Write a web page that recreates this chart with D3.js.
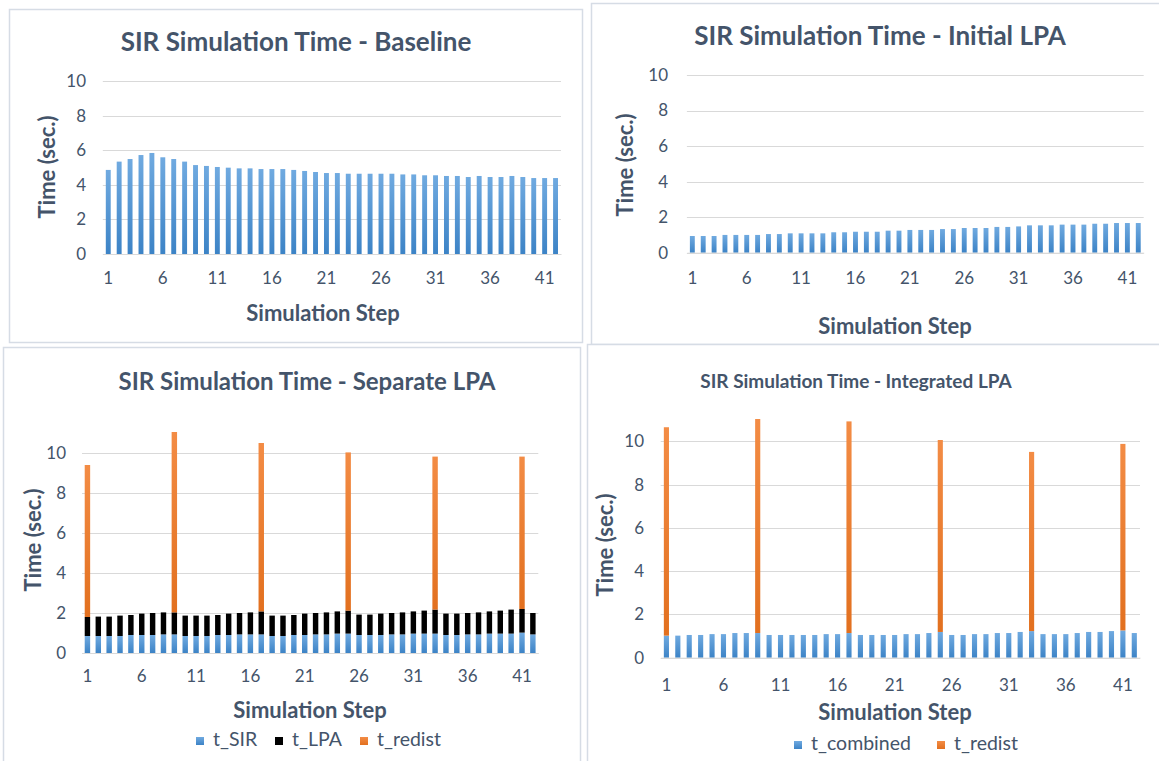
<!DOCTYPE html>
<html><head><meta charset="utf-8">
<script src="https://cdn.jsdelivr.net/npm/d3@7"></script>
<style>
html,body{margin:0;padding:0;background:#fff;}
svg{display:block;font-family:Lato,"Open Sans",sans-serif;}
</style></head>
<body>
<svg id="c" width="1159" height="761"></svg>
<script>
const steps = d3.range(1, 43);
const tickLabels = [1, 6, 11, 16, 21, 26, 31, 36, 41];
const yTicks = [0, 2, 4, 6, 8, 10];

const baseline = [4.86,5.34,5.49,5.72,5.84,5.59,5.49,5.34,5.14,5.09,5.03,4.99,4.95,4.95,4.91,4.91,4.91,4.86,4.80,4.74,4.68,4.68,4.64,4.64,4.64,4.64,4.64,4.60,4.60,4.55,4.55,4.51,4.51,4.45,4.51,4.45,4.45,4.51,4.45,4.39,4.39,4.39];
const initialLPA = [0.94,0.94,0.94,1.00,1.00,1.00,1.00,1.05,1.05,1.09,1.09,1.09,1.09,1.15,1.15,1.18,1.18,1.18,1.24,1.24,1.28,1.28,1.28,1.33,1.33,1.39,1.39,1.39,1.45,1.45,1.48,1.54,1.54,1.54,1.58,1.58,1.58,1.63,1.63,1.67,1.67,1.67];

const sepSIR = [0.85,0.85,0.85,0.85,0.90,0.90,0.90,0.93,0.93,0.85,0.85,0.85,0.90,0.90,0.93,0.93,0.93,0.85,0.85,0.90,0.90,0.93,0.93,0.97,0.97,0.90,0.90,0.90,0.93,0.93,0.97,0.97,0.97,0.90,0.90,0.93,0.93,0.97,0.97,0.97,1.02,0.93];
const sepLPA = [0.95,0.97,0.97,1.02,1.00,1.07,1.10,1.10,1.10,1.02,1.02,1.02,1.00,1.07,1.07,1.10,1.15,1.02,1.02,1.00,1.07,1.07,1.10,1.11,1.15,1.02,1.02,1.07,1.07,1.10,1.11,1.15,1.20,1.07,1.07,1.07,1.10,1.11,1.15,1.20,1.18,1.07];
const sepRedist = [7.60,0,0,0,0,0,0,0,9.02,0,0,0,0,0,0,0,8.42,0,0,0,0,0,0,0,7.91,0,0,0,0,0,0,0,7.65,0,0,0,0,0,0,0,7.62,0];

const intCombined = [1.02,1.02,1.05,1.05,1.09,1.09,1.14,1.14,1.14,1.05,1.05,1.05,1.05,1.05,1.09,1.09,1.14,1.05,1.05,1.05,1.05,1.09,1.09,1.14,1.19,1.05,1.05,1.09,1.09,1.14,1.14,1.19,1.23,1.09,1.09,1.09,1.14,1.19,1.19,1.23,1.26,1.14];
const intRedist = [9.63,0,0,0,0,0,0,0,9.89,0,0,0,0,0,0,0,9.78,0,0,0,0,0,0,0,8.87,0,0,0,0,0,0,0,8.28,0,0,0,0,0,0,0,8.62,0];

const titles = ["SIR Simulation Time - Baseline","SIR Simulation Time - Initial LPA","SIR Simulation Time - Separate LPA","SIR Simulation Time - Integrated LPA"];
const xTitle = "Simulation Step";
const yTitle = "Time (sec.)";

const TEXT = "#44546A";
const GRID = "#D9D9D9";
const svg = d3.select("#c");
const defs = svg.append("defs");
function grad(id, top, bottom){
  const g = defs.append("linearGradient").attr("id", id).attr("x1",0).attr("y1",0).attr("x2",0).attr("y2",1);
  g.append("stop").attr("offset","0%").attr("stop-color",top);
  g.append("stop").attr("offset","100%").attr("stop-color",bottom);
}
grad("gBlue", "#70AAE0", "#3C83C6");
grad("gOrange", "#F38C45", "#E2701F");
grad("gBlack", "#000", "#000");

function panel(cfg){
  const g = svg.append("g");
  g.append("rect").attr("x", cfg.box[0]+0.5).attr("y", cfg.box[1]+0.5)
    .attr("width", cfg.box[2]).attr("height", cfg.box[3])
    .attr("fill","#fff").attr("stroke","#D6DCE5").attr("stroke-width",1.5);
  g.append("text").attr("x", cfg.titleX).attr("y", cfg.titleY)
    .attr("text-anchor","middle").attr("font-weight","bold")
    .attr("font-size", cfg.titleSize).attr("fill", TEXT).text(cfg.title);

  const x = d3.scaleBand().domain(steps).range([cfg.x0, cfg.x1]).paddingInner(cfg.pad).paddingOuter(cfg.pad/2);
  const y = d3.scaleLinear().domain([0,10]).range([cfg.y0, cfg.y10]);

  // gridlines
  g.append("g").selectAll("line").data(yTicks).join("line")
    .attr("x1", cfg.x0).attr("x2", cfg.x1)
    .attr("y1", d => Math.round(y(d))+0.5).attr("y2", d => Math.round(y(d))+0.5)
    .attr("stroke", GRID).attr("stroke-width", 1);

  // y axis labels
  const ya = d3.axisLeft(y).tickValues(yTicks).tickSize(0).tickPadding(0).tickFormat(d3.format("d"));
  const yg = g.append("g").attr("transform", `translate(${cfg.yLabX},0)`).call(ya);
  yg.select(".domain").remove();
  yg.selectAll("text").attr("font-size", 17).attr("fill", TEXT).attr("font-family","Lato");

  // stacked bars
  const stack = d3.stack().keys(cfg.keys.map((k,i)=>i))(steps.map((s,i)=>cfg.series.map(arr=>arr[i])));
  stack.forEach((layer, li) => {
    g.append("g").selectAll("rect").data(layer.map((d,i)=>({d, s: steps[i]}))).join("rect")
      .filter(o => o.d[1] - o.d[0] > 0)
      .attr("x", o => x(o.s)).attr("width", x.bandwidth())
      .attr("y", o => y(o.d[1])).attr("height", o => y(o.d[0]) - y(o.d[1]))
      .attr("fill", `url(#${cfg.fills[li]})`);
  });

  // x axis
  const xa = d3.axisBottom(x).tickValues(tickLabels).tickSize(0).tickPadding(cfg.xTickPad);
  const xg = g.append("g").attr("transform", `translate(0,${cfg.y0})`).call(xa);
  xg.select(".domain").attr("stroke", GRID);
  xg.selectAll("text").attr("font-size", 17).attr("fill", TEXT).attr("font-family","Lato");

  g.append("text").attr("x", cfg.xtX).attr("y", cfg.xtY).attr("text-anchor","middle")
    .attr("font-weight","bold").attr("font-size",22).attr("fill",TEXT).text(xTitle);
  g.append("text").attr("transform", `translate(${cfg.ytX},${cfg.ytY}) rotate(-90)`)
    .attr("text-anchor","middle").attr("font-weight","bold").attr("font-size",22).attr("fill",TEXT).text(yTitle);

  if (cfg.legend){
    cfg.legend.forEach((it) => {
      g.append("rect").attr("x", it.x).attr("y", cfg.legY-4).attr("width",8).attr("height",8)
        .attr("fill", `url(#${it.fill})`);
      g.append("text").attr("x", it.x+17).attr("y", cfg.legY).attr("dominant-baseline","middle")
        .attr("font-size",19.5).attr("fill",TEXT).text(it.label);
    });
  }
}

panel({box:[9,9,573,333], title:titles[0], titleX:296, titleY:51, titleSize:26,
  x0:102.8, x1:561, y0:254, y10:81, pad:0.55, yLabX:86, xTickPad:18,
  keys:["t"], series:[baseline], fills:["gBlue"],
  xtX:323, xtY:321, ytX:55, ytY:167});

panel({box:[591,3,570,341], title:titles[1], titleX:880, titleY:45, titleSize:26,
  x0:686.9, x1:1143.7, y0:252.7, y10:75, pad:0.55, yLabX:668, xTickPad:19,
  keys:["t"], series:[initialLPA], fills:["gBlue"],
  xtX:895, xtY:334, ytX:633, ytY:165});

panel({box:[3,347,577,416], title:titles[2], titleX:307, titleY:390, titleSize:24,
  x0:82, x1:538.3, y0:653, y10:453, pad:0.5, yLabX:66, xTickPad:17,
  keys:["t_SIR","t_LPA","t_redist"], series:[sepSIR, sepLPA, sepRedist], fills:["gBlue","gBlack","gOrange"],
  xtX:310, xtY:718, ytX:41, ytY:540,
  legY:741, legend:[{x:196,label:"t_SIR",fill:"gBlue"},{x:275,label:"t_LPA",fill:"gBlack"},{x:360,label:"t_redist",fill:"gOrange"}]});

panel({box:[587,344,574,419], title:titles[3], titleX:856, titleY:388, titleSize:19,
  x0:660.7, x1:1140, y0:657.7, y10:441.3, pad:0.55, yLabX:644, xTickPad:21,
  keys:["t_combined","t_redist"], series:[intCombined, intRedist], fills:["gBlue","gOrange"],
  xtX:895, xtY:720, ytX:613, ytY:545,
  legY:745, legend:[{x:794,label:"t_combined",fill:"gBlue"},{x:937,label:"t_redist",fill:"gOrange"}]});
</script>
</body></html>
